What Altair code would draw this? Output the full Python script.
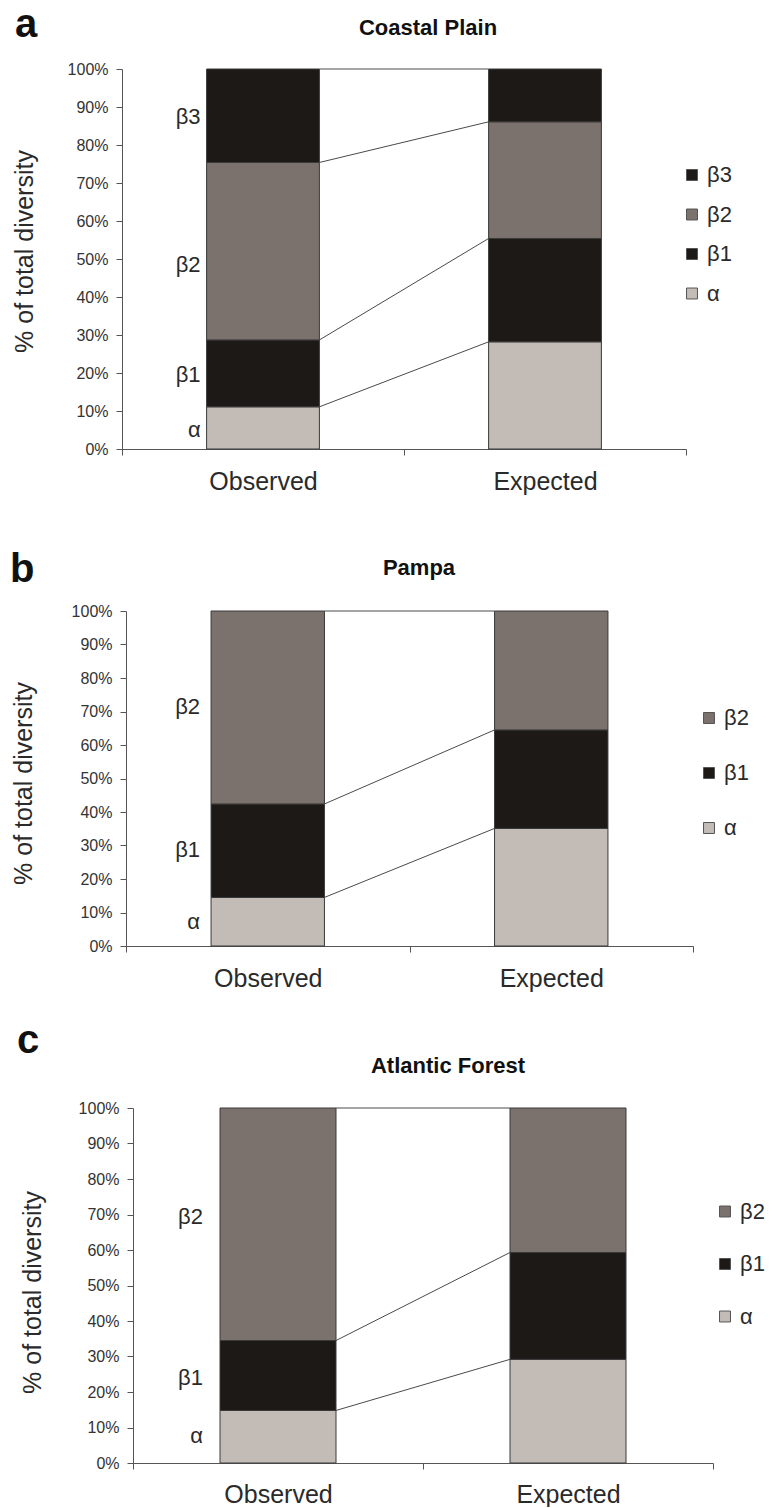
import altair as alt
import pandas as pd

CATEGORIES = ["Observed", "Expected"]

# Panel a: Coastal Plain (component shares, % of total diversity)
A_COMPONENTS = ["α", "β1", "β2", "β3"]
A_OBSERVED = [11.1, 17.6, 46.7, 24.6]
A_EXPECTED = [28.2, 27.2, 30.7, 13.9]
A_LABEL_Y = [5.0, 19.5, 48.4, 87.3]

# Panel b: Pampa
B_COMPONENTS = ["α", "β1", "β2"]
B_OBSERVED = [14.5, 27.9, 57.6]
B_EXPECTED = [35.1, 29.4, 35.5]
B_LABEL_Y = [7.3, 28.7, 71.3]

# Panel c: Atlantic Forest
C_COMPONENTS = ["α", "β1", "β2"]
C_OBSERVED = [14.8, 19.7, 65.5]
C_EXPECTED = [29.2, 30.1, 40.7]
C_LABEL_Y = [7.5, 24.0, 69.4]

TITLES = ["Coastal Plain", "Pampa", "Atlantic Forest"]
LETTERS = ["a", "b", "c"]
Y_TICKS = list(range(0, 101, 10))

COLORS = {"α": "#c3bcb6", "β1": "#1c1917", "β2": "#7b716d", "β3": "#1c1917"}
TEXT = "#2a2a2a"
LINE = "#4a4a4a"
BAR_FRAC = 0.40
Y_TITLE = "% of total diversity"


def cumulative(vals):
    out, c = [], 0.0
    for v in vals:
        c += v
        out.append(c)
    return out


def panel(comps, obs, exp, label_y, title, letter, L):
    rows = []
    for cat, vals in zip(CATEGORIES, [obs, exp]):
        c = 0.0
        for comp, v in zip(comps, vals):
            rows.append(dict(cat=cat, comp=comp, y0=c, y1=c + v))
            c += v
    bars_df = pd.DataFrame(rows)
    lines_df = pd.DataFrame(dict(src=CATEGORIES[0], dst=CATEGORIES[1],
                                 yo=cumulative(obs), ye=cumulative(exp)))
    labels_df = pd.DataFrame(dict(cat=CATEGORIES[0], label=comps, ly=label_y))
    legend_order = list(reversed(comps))

    xscale = alt.Scale(domain=CATEGORIES, paddingInner=0, paddingOuter=0,
                       range=[L["shift"], L["width"]])
    yscale = alt.Scale(domain=[0, 100], nice=False)

    xaxis = alt.Axis(
        labelAngle=0, labelFontSize=25, labelColor=TEXT,
        labelPadding=L["xlab_pad"], tickBand="extent", tickSize=6,
        tickColor="#555", domainColor="#555")
    yaxis = alt.Axis(
        values=Y_TICKS, tickCount=11, labelOverlap=False,
        labelExpr="datum.value + '%'", labelFontSize=16,
        labelColor="#333", labelPadding=8, tickSize=6, tickColor="#555",
        domainColor="#555", grid=False, offset=-L["shift"],
        titleFontSize=25, titleFontWeight="normal", titleColor=TEXT,
        titleX=L["ytitle_x"], titleY=L["ytitle_y"],
        titleBaseline="middle")

    bars = alt.Chart(bars_df).mark_bar(
        width=alt.RelativeBandSize(BAR_FRAC), stroke="#3a3a3a", strokeWidth=1
    ).encode(
        x=alt.X("cat:N", scale=xscale, title=None, axis=xaxis),
        y=alt.Y("y0:Q", scale=yscale, title=Y_TITLE, axis=yaxis),
        y2="y1:Q",
        color=alt.Color("comp:N", scale=alt.Scale(
            domain=legend_order, range=[COLORS[c] for c in legend_order]),
            legend=alt.Legend(
                title=None, orient="none", legendX=L["legend_x"],
                legendY=L["legend_y"], labelFontSize=22, labelColor=TEXT,
                symbolType="square", symbolSize=120, symbolStrokeColor="#555",
                symbolStrokeWidth=1, rowPadding=L["row_pad"], labelOffset=4,
                padding=0)),
    )

    rules = alt.Chart(lines_df).mark_rule(color=LINE, strokeWidth=1).encode(
        x=alt.X("src:N", bandPosition=0.5 + BAR_FRAC / 2, title=None, axis=xaxis),
        x2=alt.X2("dst:N", bandPosition=0.5 - BAR_FRAC / 2),
        y=alt.Y("yo:Q", title=Y_TITLE, axis=yaxis),
        y2="ye:Q",
    )

    seg_labels = alt.Chart(labels_df).mark_text(
        align="right", baseline="middle", dx=L["seg_dx"], fontSize=22, color=TEXT
    ).encode(
        x=alt.X("cat:N", bandPosition=0.5 - BAR_FRAC / 2, title=None, axis=xaxis),
        y=alt.Y("ly:Q", title=Y_TITLE, axis=yaxis),
        text="label:N",
    )

    title_txt = alt.Chart(pd.DataFrame(dict(t=[title]))).mark_text(
        align="center", baseline="alphabetic", fontSize=22, fontWeight="bold",
        color="#111"
    ).encode(x=alt.value(L["title_x"]), y=alt.value(L["title_y"]), text="t:N")

    letter_txt = alt.Chart(pd.DataFrame(dict(t=[letter]))).mark_text(
        align="left", baseline="alphabetic", fontSize=40, fontWeight="bold",
        color="#111"
    ).encode(x=alt.value(L["letter_x"]), y=alt.value(L["letter_y"]), text="t:N")

    return alt.layer(bars, rules, seg_labels, title_txt, letter_txt).properties(
        width=L["width"], height=L["height"])


LAYOUT_A = dict(width=564, height=380, shift=0, title_x=306, title_y=-34,
                letter_x=-107, letter_y=-32, legend_x=559, legend_y=95,
                row_pad=17.5, ytitle_x=-98, ytitle_y=182, seg_dx=-6, xlab_pad=14)
LAYOUT_B = dict(width=571, height=335, shift=4, title_x=297, title_y=-36,
                letter_x=-112, letter_y=-29, legend_x=576, legend_y=96,
                row_pad=33, ytitle_x=-103, ytitle_y=172, seg_dx=-11, xlab_pad=14)
LAYOUT_C = dict(width=591, height=355, shift=11, title_x=326, title_y=-35,
                letter_x=-105, letter_y=-55, legend_x=592, legend_y=92.5,
                row_pad=30.5, ytitle_x=-101, ytitle_y=184, seg_dx=-17, xlab_pad=13)

pa = panel(A_COMPONENTS, A_OBSERVED, A_EXPECTED, A_LABEL_Y, TITLES[0], LETTERS[0], LAYOUT_A)
pb = panel(B_COMPONENTS, B_OBSERVED, B_EXPECTED, B_LABEL_Y, TITLES[1], LETTERS[1], LAYOUT_B)
pc = panel(C_COMPONENTS, C_OBSERVED, C_EXPECTED, C_LABEL_Y, TITLES[2], LETTERS[2], LAYOUT_C)

chart = alt.vconcat(pa, pb, pc, spacing=162, bounds="flush").resolve_scale(
    x="independent", y="independent", color="independent"
).resolve_legend(color="independent").properties(
    padding={"left": 10, "top": 5, "right": 0, "bottom": 0},
    background="white",
).configure(font="Liberation Sans", view=alt.ViewConfig(stroke=None))

chart.save("out.html", embed_options={"renderer": "svg", "actions": False})
